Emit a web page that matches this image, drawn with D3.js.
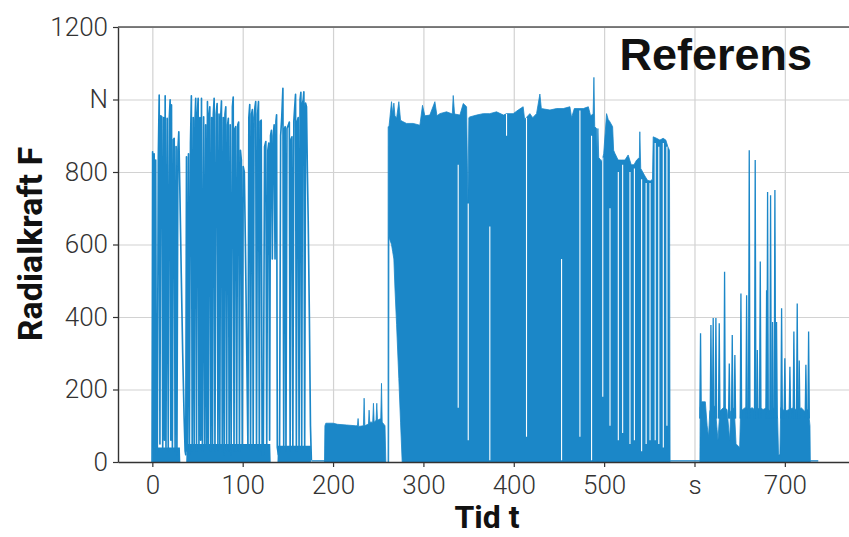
<!DOCTYPE html>
<html>
<head>
<meta charset="utf-8">
<script src="https://cdn.jsdelivr.net/npm/d3@7"></script>
<style>
  body { margin: 0; background: #fff; }
  svg { display: block; font-family: Roboto, "Open Sans", sans-serif; }
</style>
</head>
<body>
<div id="chart"></div>
<script>
(function(){
// ticks
const xTicks = [0, 100, 200, 300, 400, 500, 600, 700];
const xTickText = ["0", "100", "200", "300", "400", "500", "s", "700"];
const yTicks = [0, 200, 400, 600, 800, 1000, 1200];
const yTickText = ["0", "200", "400", "600", "800", "N", "1200"];

// part 1 (0-176 s): single load peaks, peak / trough vertices
const tidA = [-0.3,0.3,1.2,2.0,2.9,3.7,4.6,5.5,6.6,7.6,8.4,9.3,10.5,11.5,12.6,13.4,14.2,15.1,16.4,17.6,
  18.7,19.7,20.5,21.2,22.2,23.3,24.2,25.2,26.3,27.2,28.3,29.3,30.4,32.0,33.6,35.2,36.3,37.0,37.8,38.8,
  40.0,41.0,42.2,43.2,44.1,45.3,46.3,47.2,48.0,48.9,49.8,50.7,51.6,52.6,53.5,54.4,55.4,56.8,57.9,59.0,
  60.0,61.0,61.9,62.8,63.6,64.6,65.7,66.6,67.5,68.4,69.3,70.6,71.7,72.6,73.8,74.7,75.6,76.5,77.4,78.6,
  79.5,80.4,81.3,82.2,83.3,84.1,85.0,86.2,87.2,88.6,89.5,90.4,91.4,92.3,93.3,94.5,95.5,96.4,97.5,98.5,
  99.5,100.6,101.8,103.0,104.5,105.8,106.8,107.8,108.7,109.8,110.7,111.6,112.6,113.6,114.4,115.3,116.5,117.5,118.4,119.5,
  120.5,121.5,122.8,124.2,125.6,126.6,127.8,128.9,129.8,130.8,131.8,132.8,133.8,134.8,135.8,136.8,137.5,138.3,139.5,140.8,
  142.0,143.2,144.5,145.4,146.3,147.0,147.9,149.0,150.6,151.6,152.5,153.5,154.5,155.5,156.6,157.6,158.5,159.4,160.4,161.4,
  162.4,163.5,164.4,165.3,166.2,167.0,167.7,168.6,169.6,170.6,171.6,172.5,173.8,175.0,176.0];
const kraftA = [0,856,40,850,40,833,20,30,840,1012,50,955,952,40,950,60,1010,40,948,30,
  945,999,60,985,40,890,893,30,870,20,860,911,760,520,300,120,30,20,842,30,
  850,20,880,1010,30,950,40,940,1003,30,960,1003,40,950,60,1003,30,952,40,930,
  50,994,40,960,980,30,950,40,960,1003,30,960,989,30,960,40,950,996,30,950,
  20,960,980,30,930,948,30,930,20,980,1007,30,920,925,30,930,938,30,860,833,
  40,815,800,600,300,40,950,986,30,960,972,40,950,980,994,40,960,994,30,940,
  943,20,20,870,884,40,860,880,60,900,915,560,900,930,560,940,958,40,20,30,
  900,950,1031,40,920,925,30,920,930,938,30,890,897,40,940,980,1014,30,940,950,
  40,1000,1020,40,990,1000,1021,40,990,980,800,667,400,100,5];
// low noise band under part 1
const golvT = [0, 30.5, 31, 37.5, 38, 130.5, 131, 138.5, 139, 175.5];
const golvF = [40, 40, 0, 0, 50, 50, 0, 0, 45, 45];

// part 2 (190-258 s): low level block
const tidB = [190.5,191.0,192.0,200.0,205.0,215.0,225.0,227.0,227.7,228.4,233.6,234.4,235.2,239.2,239.9,240.6,
  243.9,244.7,245.5,247.6,248.4,249.2,252.8,253.6,254.4,257.5,258.4];
const kraftB = [0,100,107,107,104,102,100,100,120,98,100,176,100,105,143,110,
  110,162,110,115,162,115,120,217,110,100,0];

// part 3 (261-573 s): dense block, upper envelope
const tidC = [260.8,261.0,261.6,261.9,264.7,266.0,267.3,268.5,270.3,272.8,274.7,276.5,281.3,288.7,296.1,299.0,
  301.6,307.1,312.7,315.0,318.2,325.6,332.0,333.0,334.5,340.4,344.1,347.8,349.2,350.3,351.4,358.8,
  366.2,373.5,380.9,388.6,392.0,399.4,404.9,410.4,412.0,417.8,421.0,425.2,428.9,430.5,440.0,447.4,
  454.7,462.1,464.0,467.0,473.2,476.9,482.5,485.0,487.8,488.7,489.6,491.7,492.4,493.1,494.0,497.5,
  499.5,502.7,504.5,506.0,509.4,510.5,512.0,515.5,519.0,523.0,526.6,530.0,533.0,536.0,539.0,539.5,
  540.5,545.1,548.0,551.0,553.5,554.3,558.0,561.7,565.3,568.3,570.5,572.3,573.0];
const toppC = [0,925,925,925,994,960,990,955,948,994,943,940,934,934,929,984,
  955,957,994,955,961,966,960,1011,960,957,989,980,713,950,952,957,
  961,961,966,957,961,961,971,980,945,961,950,961,1015,975,971,975,
  975,980,950,975,975,975,980,955,960,1061,925,920,829,920,840,829,
  850,961,945,940,925,860,851,833,833,833,847,820,820,833,840,911,
  810,789,777,775,780,897,893,888,893,888,870,860,0];
// part 3 lower envelope (empty wedge at the start)
const bottenT = [261.6, 261.9, 264.7, 266.0, 267.3, 268.5, 270.3, 272.8, 274.7, 276.5];
const bottenF = [0, 620, 600, 580, 560, 480, 380, 230, 110, 0];
// empty vertical gaps inside part 3
const gapT = [338.5, 349.6, 373.5, 392.0, 414.1, 452.9, 473.2, 486.1, 498.5, 506.5, 515.7, 520.5,
  528.6, 533.5, 541.5, 546.5, 550.8, 556.5, 560.5, 565.5, 569.5];
const gapLo = [150, 60, 5, 900, 70, 5, 70, 5, 180, 100, 60, 80,
  50, 60, 30, 50, 60, 60, 50, 40, 100];
const gapHi = [820, 713, 650, 960, 950, 560, 970, 900, 840, 700, 800, 820,
  800, 810, 780, 770, 770, 880, 870, 880, 870];

// part 4 (606-728 s): base level and peaks
const tidD = [606.0,606.3,608,612,614,615.5,617,620,623,625,626,628,632,636,639,640,644,646,650,651,
  656,660,664,668,672,676,680,684,688,692,693,694.5,695.5,700,705,710,714,718,722,726,727.8,728.2];
const kraftD = [0,150,166,166,100,70,140,160,150,90,60,140,150,145,60,140,150,50,40,140,
  150,145,150,140,150,145,150,140,150,120,20,20,150,140,145,150,140,150,140,145,100,0];
const spikT = [606.7,618.2,620.7,623.7,627.4,633.3,638.5,641.8,644.7,651.4,657.7,660.6,667.2,669.5,672.8,
  679.8,680.9,684.2,686.4,689.0,690.8,696.4,700.0,705.6,710.0,713.7,715.9,723.3,726.3];
const spikF = [355,378,397,397,383,525,272,350,295,465,460,860,833,309,553,
  474,745,736,386,750,386,424,286,263,360,437,280,268,360];

// rest periods, force close to zero
const vilaStart = [176, 573, 728];
const vilaEnd = [191, 606, 737];
const vilaF = [3, 3, 3];

const blue = "#1b87c8";

const W = 849, H = 537;
const margin = { top: 27, right: 0, bottom: 75, left: 118 };
const width = W - margin.left - margin.right;
const height = H - margin.top - margin.bottom;

const svg = d3.select("#chart")
    .append("svg")
    .attr("width", W)
    .attr("height", H);

const g = svg.append("g")
    .attr("transform", `translate(${margin.left},${margin.top})`);

// scales
const x = d3.scaleLinear().domain([-38, 771]).range([0, width]);
const y = d3.scaleLinear().domain([0, 1200]).range([height, 0]);

// grid
g.append("g")
    .attr("transform", `translate(0,${height})`)
    .call(d3.axisBottom(x).tickValues(xTicks).tickSize(-height).tickFormat(""))
    .call(s => s.select(".domain").remove())
    .selectAll("line").attr("stroke", "#d2d2d2").attr("stroke-width", 1.2);
g.append("g")
    .call(d3.axisLeft(y).tickValues(yTicks).tickSize(-width).tickFormat(""))
    .call(s => s.select(".domain").remove())
    .selectAll("line").attr("stroke", "#d2d2d2").attr("stroke-width", 1.2);

g.append("clipPath").attr("id", "plotclip")
  .append("rect").attr("width", width).attr("height", height);
const plot = g.append("g").attr("clip-path", "url(#plotclip)");

// part 1
plot.append("path")
    .datum(d3.zip(golvT, golvF))
    .attr("fill", blue)
    .attr("d", d3.area().x(d => x(d[0])).y0(y(0)).y1(d => y(d[1])));
plot.append("path")
    .datum(d3.zip(tidA, kraftA))
    .attr("fill", "none")
    .attr("stroke", blue)
    .attr("stroke-width", 1.65)
    .attr("stroke-linejoin", "round")
    .attr("d", d3.line().x(d => x(d[0])).y(d => y(d[1])));

// part 2
plot.append("path")
    .datum(d3.zip(tidB, kraftB))
    .attr("fill", blue)
    .attr("stroke", blue)
    .attr("stroke-width", 0.8)
    .attr("d", d3.area().x(d => x(d[0])).y0(y(0)).y1(d => y(d[1])));

// part 3
const botten = d3.scaleLinear().domain(bottenT).range(bottenF).clamp(true);
plot.append("path")
    .datum(d3.zip(tidC, toppC))
    .attr("fill", blue)
    .attr("stroke", blue)
    .attr("stroke-width", 0.8)
    .attr("d", d3.area().x(d => x(d[0])).y0(d => y(botten(d[0]))).y1(d => y(d[1])));
plot.selectAll(".gap")
    .data(d3.range(gapT.length))
    .join("line")
    .attr("class", "gap")
    .attr("x1", i => x(gapT[i])).attr("x2", i => x(gapT[i]))
    .attr("y1", i => y(gapLo[i])).attr("y2", i => y(gapHi[i]))
    .attr("stroke", "#fff")
    .attr("stroke-width", 1.1);

// part 4
plot.append("path")
    .datum(d3.zip(tidD, kraftD))
    .attr("fill", blue)
    .attr("stroke", blue)
    .attr("stroke-width", 0.8)
    .attr("d", d3.area().x(d => x(d[0])).y0(y(0)).y1(d => y(d[1])));
const spikLine = d3.line().x(d => x(d[0])).y(d => y(d[1]));
plot.selectAll(".spik")
    .data(d3.zip(spikT, spikF))
    .join("path")
    .attr("class", "spik")
    .attr("fill", blue)
    .attr("stroke", blue)
    .attr("stroke-width", 1.3)
    .attr("d", d => spikLine([[d[0] - 0.8, 120], [d[0], d[1]], [d[0] + 0.8, 120]]));

// rest periods
plot.selectAll(".vila")
    .data(d3.range(vilaStart.length))
    .join("line")
    .attr("class", "vila")
    .attr("x1", i => x(vilaStart[i])).attr("x2", i => x(vilaEnd[i]))
    .attr("y1", i => y(vilaF[i])).attr("y2", i => y(vilaF[i]))
    .attr("stroke", blue)
    .attr("stroke-width", 1.4);

// axes
const xAxis = g.append("g")
    .attr("transform", `translate(0,${height})`)
    .call(d3.axisBottom(x).tickValues(xTicks).tickFormat((d, i) => xTickText[i])
        .tickSize(5).tickSizeOuter(0).tickPadding(9));
const yAxis = g.append("g")
    .call(d3.axisLeft(y).tickValues(yTicks).tickFormat((d, i) => yTickText[i])
        .tickSize(5).tickSizeOuter(0).tickPadding(5));
[xAxis, yAxis].forEach(a => {
    a.select(".domain").attr("stroke", "#333").attr("stroke-width", 1.4);
    a.selectAll(".tick line").attr("stroke", "#333").attr("stroke-width", 1.2);
    a.selectAll(".tick text")
        .attr("fill", "#333")
        .style("font-family", "Roboto, sans-serif")
        .style("font-weight", 300)
        .style("font-size", "26px");
});

// top border
g.append("line")
    .attr("x1", 0).attr("x2", width)
    .attr("y1", 0).attr("y2", 0)
    .attr("stroke", "#555")
    .attr("stroke-width", 1.4);

// labels
svg.append("text")
    .attr("x", 487)
    .attr("y", 528)
    .attr("text-anchor", "middle")
    .style("font-weight", 700)
    .style("font-size", "32px")
    .attr("fill", "#111")
    .text("Tid t");

svg.append("text")
    .attr("transform", "translate(42,244) rotate(-90)")
    .attr("text-anchor", "middle")
    .style("font-weight", 700)
    .style("font-size", "34px")
    .attr("fill", "#111")
    .text("Radialkraft F");

svg.append("text")
    .attr("x", 812)
    .attr("y", 70)
    .attr("text-anchor", "end")
    .style("font-family", "'Liberation Sans', Arial, sans-serif")
    .style("font-weight", 700)
    .style("font-size", "45px")
    .attr("fill", "#111")
    .text("Referens");

})();
</script>
</body>
</html>
